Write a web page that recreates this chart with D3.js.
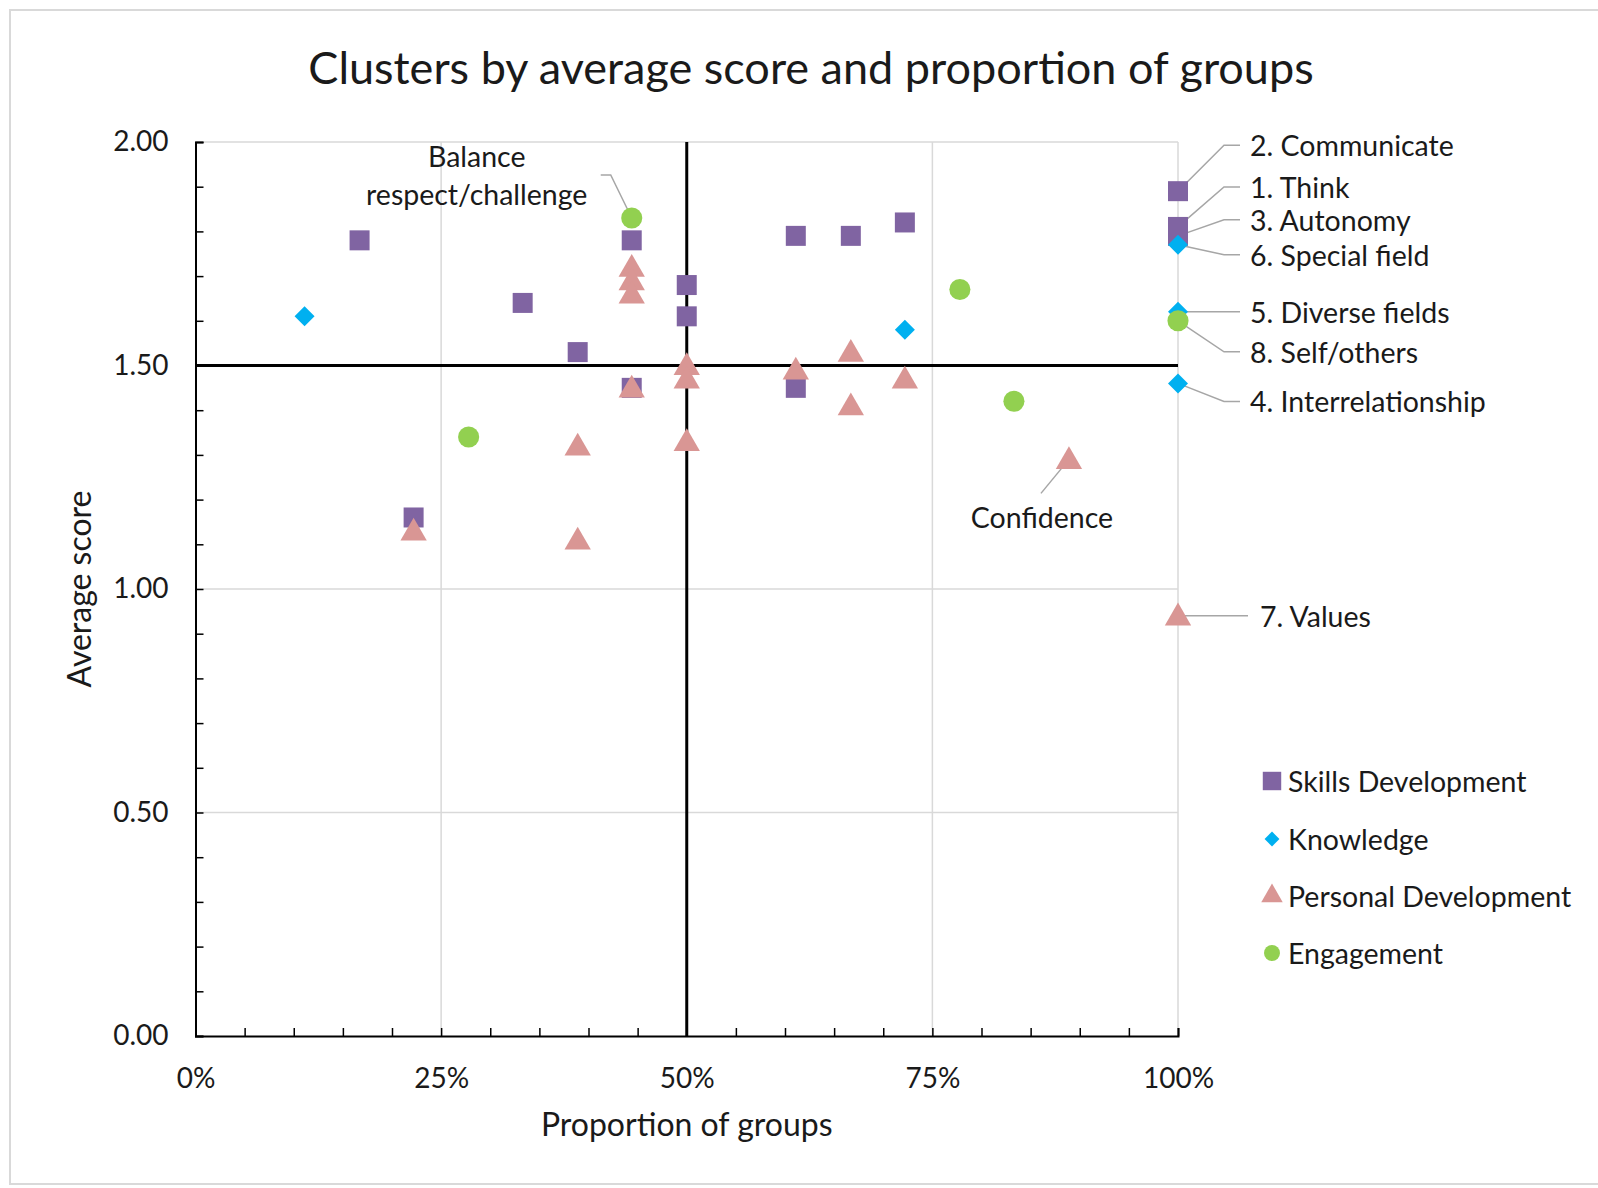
<!DOCTYPE html>
<html>
<head>
<meta charset="utf-8">
<script src="https://cdn.jsdelivr.net/npm/d3@7"></script>
<style>
  body { margin: 0; background: #fff; }
  text { font-family: Lato, "Open Sans", sans-serif; fill: #1a1a1a; }
</style>
</head>
<body>
<svg id="chart" width="1598" height="1188"></svg>
<script>
// series: proportion of groups (x) and average score (y)
var categories = ["Skills Development", "Knowledge", "Personal Development", "Engagement"];

var skillsX = [0.167, 0.222, 0.333, 0.389, 0.444, 0.444, 0.5, 0.5, 0.611, 0.667, 0.722, 0.611, 1, 1, 1];
var skillsY = [1.78, 1.16, 1.64, 1.53, 1.78, 1.45, 1.68, 1.61, 1.79, 1.79, 1.82, 1.45, 1.89, 1.81, 1.79];

var knowX = [0.111, 0.722, 1, 1, 1];
var knowY = [1.61, 1.58, 1.77, 1.62, 1.46];

var persX = [0.222, 0.389, 0.389, 0.444, 0.444, 0.444, 0.444, 0.5, 0.5, 0.5, 0.611, 0.667, 0.667, 0.722, 0.889, 1];
var persY = [1.13, 1.32, 1.11, 1.72, 1.69, 1.66, 1.45, 1.50, 1.47, 1.33, 1.49, 1.53, 1.41, 1.47, 1.29, 0.94];

var engX = [0.278, 0.444, 0.778, 0.833, 1];
var engY = [1.34, 1.83, 1.67, 1.42, 1.60];

var xTicks = [0, 0.25, 0.5, 0.75, 1];
var yTicks = [0, 0.5, 1, 1.5, 2];

// quadrant lines
var midX = 0.5;
var midY = 1.5;

// labelled points: series index, point index, text
var labels = [
  {s: 0, i: 12, text: "2. Communicate"},
  {s: 0, i: 13, text: "1. Think"},
  {s: 0, i: 14, text: "3. Autonomy"},
  {s: 1, i: 2, text: "6. Special field"},
  {s: 1, i: 3, text: "5. Diverse fields"},
  {s: 3, i: 4, text: "8. Self/others"},
  {s: 1, i: 4, text: "4. Interrelationship"},
  {s: 2, i: 15, text: "7. Values"},
  {s: 2, i: 14, text: "Confidence"},
  {s: 3, i: 1, text: "Balance\nrespect/challenge"}
];

// label placement (pixel offsets from the marker)
var labelPos = [
  {dy: -46, elbow: 46, end: 62, tx: 72, anchor: "start"},
  {dy: -40, elbow: 46, end: 62, tx: 72, anchor: "start"},
  {dy: -16, elbow: 46, end: 62, tx: 72, anchor: "start"},
  {dy: 10, elbow: 46, end: 62, tx: 72, anchor: "start"},
  {dy: 0, elbow: 46, end: 62, tx: 72, anchor: "start"},
  {dy: 31, elbow: 46, end: 62, tx: 72, anchor: "start"},
  {dy: 18, elbow: 46, end: 62, tx: 72, anchor: "start"},
  {dy: 0, elbow: 40, end: 70, tx: 82, anchor: "start"},
  {dy: 34, elbow: -28, end: -28, tx: -27, ty: 58, anchor: "middle"},
  {dy: -43, elbow: -21, end: -31, tx: -155, ty: -62, anchor: "middle"}
];

var colors = ["#8064A2", "#00B0F0", "#D99694", "#92D050"];
var shapes = [d3.symbolSquare, d3.symbolSquare, d3.symbolTriangle, d3.symbolCircle];
var rotate = [0, 45, 0, 0];
var sizes = [400, 200, 300, 350];

var series = [
  {x: skillsX, y: skillsY},
  {x: knowX, y: knowY},
  {x: persX, y: persY},
  {x: engX, y: engY}
];

var svg = d3.select("#chart");
var plotLeft = 195.5, plotRight = 1178, plotTop = 142, plotBottom = 1036;

var x = d3.scaleLinear().domain([0, 1]).range([plotLeft, plotRight]);
var y = d3.scaleLinear().domain([0, 2]).range([plotBottom, plotTop]);

// outer frame
svg.append("rect")
  .attr("x", 10).attr("y", 10)
  .attr("width", 1620).attr("height", 1174)
  .attr("fill", "none")
  .attr("stroke", "#d9d9d9")
  .attr("stroke-width", 2);

// title
svg.append("text")
  .attr("x", 811).attr("y", 84)
  .attr("text-anchor", "middle")
  .style("font-size", "45px")
  .text("Clusters by average score and proportion of groups");

// gridlines
svg.append("g").selectAll("line")
  .data(yTicks.filter(function(d) { return d > 0; }))
  .enter().append("line")
  .attr("x1", plotLeft).attr("x2", plotRight)
  .attr("y1", function(d) { return y(d); })
  .attr("y2", function(d) { return y(d); })
  .attr("stroke", "#d9d9d9").attr("stroke-width", 1.5);

svg.append("g").selectAll("line")
  .data(xTicks.filter(function(d) { return d > 0; }))
  .enter().append("line")
  .attr("y1", plotTop).attr("y2", plotBottom)
  .attr("x1", function(d) { return x(d); })
  .attr("x2", function(d) { return x(d); })
  .attr("stroke", "#d9d9d9").attr("stroke-width", 1.5);

// minor ticks (inside)
var yMinor = d3.range(0, 21).map(function(i) { return i / 10; });
var xMinor = d3.range(0, 21).map(function(i) { return i / 20; });

var yAxis = svg.append("g")
  .attr("transform", "translate(" + plotLeft + ",0)")
  .call(d3.axisLeft(y).tickValues(yMinor).tickSize(-8).tickPadding(27)
    .tickFormat(function(d) { return yTicks.indexOf(Math.round(d * 10) / 10) >= 0 ? d3.format(".2f")(d) : ""; }));

var xAxis = svg.append("g")
  .attr("transform", "translate(0," + plotBottom + ")")
  .call(d3.axisBottom(x).tickValues(xMinor).tickSize(-8).tickPadding(32)
    .tickFormat(function(d) { return xTicks.indexOf(Math.round(d * 100) / 100) >= 0 ? d3.format(".0%")(d) : ""; }));

[yAxis, xAxis].forEach(function(g) {
  g.select(".domain").attr("stroke", "#000").attr("stroke-width", 2);
  g.selectAll(".tick line").attr("stroke", "#000").attr("stroke-width", 1.5);
  g.selectAll(".tick text").style("font-size", "28px").attr("fill", "#1a1a1a")
    .style("font-family", "Lato, sans-serif");
});

// quadrant lines
svg.append("line")
  .attr("x1", x(midX)).attr("x2", x(midX))
  .attr("y1", plotTop).attr("y2", plotBottom)
  .attr("stroke", "#000").attr("stroke-width", 3);
svg.append("line")
  .attr("x1", plotLeft).attr("x2", plotRight)
  .attr("y1", y(midY)).attr("y2", y(midY))
  .attr("stroke", "#000").attr("stroke-width", 3);

// leader lines + labels
labels.forEach(function(l, k) {
  var p = labelPos[k];
  var s = series[l.s];
  var px = x(s.x[l.i]), py = y(s.y[l.i]);
  var ey = py + p.dy;
  svg.append("polyline")
    .attr("points", [[px, py], [px + p.elbow, ey], [px + p.end, ey]].join(" "))
    .attr("fill", "none")
    .attr("stroke", "#a6a6a6")
    .attr("stroke-width", 1.5);
  var t = svg.append("text")
    .attr("x", px + p.tx)
    .attr("y", py + (p.ty !== undefined ? p.ty : p.dy))
    .attr("text-anchor", p.anchor)
    .attr("dominant-baseline", "central")
    .style("font-size", "28.5px");
  var lines = l.text.split("\n");
  if (lines.length === 1) {
    t.text(l.text);
  } else {
    lines.forEach(function(line, j) {
      t.append("tspan")
        .attr("x", px + p.tx)
        .attr("dy", j === 0 ? 0 : 38)
        .text(line);
    });
  }
});

// markers
series.forEach(function(s, k) {
  svg.append("g").selectAll("path")
    .data(s.x.map(function(v, i) { return [v, s.y[i]]; }))
    .enter().append("path")
    .attr("d", d3.symbol().type(shapes[k]).size(sizes[k]))
    .attr("transform", function(d) {
      var off = k === 2 ? 2 : 0;
      return "translate(" + x(d[0]) + "," + (y(d[1]) + off) + ") rotate(" + rotate[k] + ")";
    })
    .attr("fill", colors[k]);
});

// axis titles
svg.append("text")
  .attr("x", (plotLeft + plotRight) / 2).attr("y", 1136)
  .attr("text-anchor", "middle")
  .style("font-size", "32px")
  .text("Proportion of groups");

svg.append("text")
  .attr("transform", "translate(91," + (plotTop + plotBottom) / 2 + ") rotate(-90)")
  .attr("text-anchor", "middle")
  .style("font-size", "32px")
  .text("Average score");

// legend
var legendY = [781, 839, 896, 953];
var legend = svg.append("g");
categories.forEach(function(c, k) {
  legend.append("path")
    .attr("d", d3.symbol().type(shapes[k]).size([340, 110, 200, 200][k]))
    .attr("transform", "translate(1272," + legendY[k] + ") rotate(" + rotate[k] + ")")
    .attr("fill", colors[k]);
  legend.append("text")
    .attr("x", 1288).attr("y", legendY[k])
    .attr("dominant-baseline", "central")
    .style("font-size", "28.5px")
    .text(c);
});
</script>
</body>
</html>
